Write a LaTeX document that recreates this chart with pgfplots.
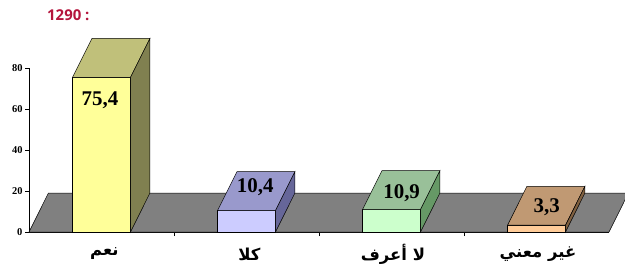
\documentclass[border=0pt]{standalone}
\usepackage{fontspec}
\setmainfont{Liberation Serif}
\newfontfamily\arabicfont[Script=Arabic]{DejaVu Sans}
\newfontfamily\titlefont{Open Sans}
\TeXXeTstate=1
\usepackage{pgfplots}
\pgfplotsset{compat=1.18}
\definecolor{floorgray}{HTML}{808080}
\definecolor{bAf}{HTML}{FFFF99}\definecolor{bAt}{HTML}{C0C07A}\definecolor{bAs}{HTML}{808050}
\definecolor{bBf}{HTML}{CCCCFF}\definecolor{bBt}{HTML}{9999CC}\definecolor{bBs}{HTML}{666699}
\definecolor{bCf}{HTML}{CCFFCC}\definecolor{bCt}{HTML}{99C099}\definecolor{bCs}{HTML}{669966}
\definecolor{bDf}{HTML}{FFCC99}\definecolor{bDt}{HTML}{C09973}\definecolor{bDs}{HTML}{806040}
\definecolor{titlered}{HTML}{B4143C}
\newcommand\tdbar[5]{%
  \pgfmathsetmacro\tbxl{#1-0.2}%
  \pgfmathsetmacro\tbxr{#1+0.2}%
  \pgfmathsetmacro\tbxlb{#1-0.2+0.134}%
  \pgfmathsetmacro\tbxrb{#1+0.2+0.134}%
  \pgfmathsetmacro\tbvb{#2+19}%
  \addplot[draw=black, line width=0.5pt, fill=#3] coordinates {(\tbxl,0) (\tbxr,0) (\tbxr,#2) (\tbxl,#2)} -- cycle;
  \addplot[draw=black, line width=0.5pt, fill=#4] coordinates {(\tbxl,#2) (\tbxr,#2) (\tbxrb,\tbvb) (\tbxlb,\tbvb)} -- cycle;
  \addplot[draw=black, line width=0.5pt, fill=#5] coordinates {(\tbxr,0) (\tbxrb,19) (\tbxrb,\tbvb) (\tbxr,#2)} -- cycle;
}
\newcommand\catfont{\arabicfont\bfseries\fontsize{16.5}{17}\selectfont}
\begin{document}
\begin{tikzpicture}
\useasboundingbox (0,0) rectangle (625bp,271bp);
\node[anchor=west, inner sep=0, text=titlered, font=\titlefont\bfseries\fontsize{15}{16}\selectfont] at (47bp,256bp) {1290 :};
\begin{axis}[
  at={(29bp,39bp)}, anchor=south west,
  scale only axis, width=580bp, height=164bp,
  xmin=-0.5, xmax=3.5, ymin=0, ymax=80,
  clip=false,
  axis lines*=left,
  axis line style={black, line width=0.6pt},
  xtick={0.5,1.5,2.5}, xticklabels={},
  ytick={0,20,40,60,80},
  tick align=outside, major tick length=4bp,
  tick style={black, line width=0.6pt},
  yticklabel style={font=\bfseries\fontsize{10.5}{11}\selectfont, xshift=1bp},
  /pgf/number format/assume math mode=true,
]
\addplot[draw=black, line width=0.5pt, fill=floorgray] coordinates {(-0.5,0) (3.5,0) (3.634,19) (-0.366,19)} -- cycle;
\tdbar{0}{75.4}{bAf}{bAt}{bAs}
\tdbar{1}{10.4}{bBf}{bBt}{bBs}
\tdbar{2}{10.9}{bCf}{bCt}{bCs}
\tdbar{3}{3.3}{bDf}{bDt}{bDs}
\node[font=\bfseries\fontsize{21}{21}\selectfont] at (axis cs:-0.01,64.4) {75,4};
\node[font=\bfseries\fontsize{21}{21}\selectfont] at (axis cs:1.06,22) {10,4};
\node[font=\bfseries\fontsize{21}{21}\selectfont] at (axis cs:2.07,19) {10,9};
\node[font=\bfseries\fontsize{21}{21}\selectfont] at (axis cs:3.07,12.2) {3,3};
\node[font=\catfont, yshift=-22bp] at (axis cs:0.02,0) {\beginR نعم\endR};
\node[font=\catfont, yshift=-22bp] at (axis cs:1.02,0) {\beginR كلا\endR};
\node[font=\catfont, yshift=-22bp] at (axis cs:2.01,0) {\beginR لا أعرف\endR};
\node[font=\catfont, yshift=-22bp] at (axis cs:3.01,0) {\beginR غير معني\endR};
\end{axis}
\end{tikzpicture}
\end{document}
